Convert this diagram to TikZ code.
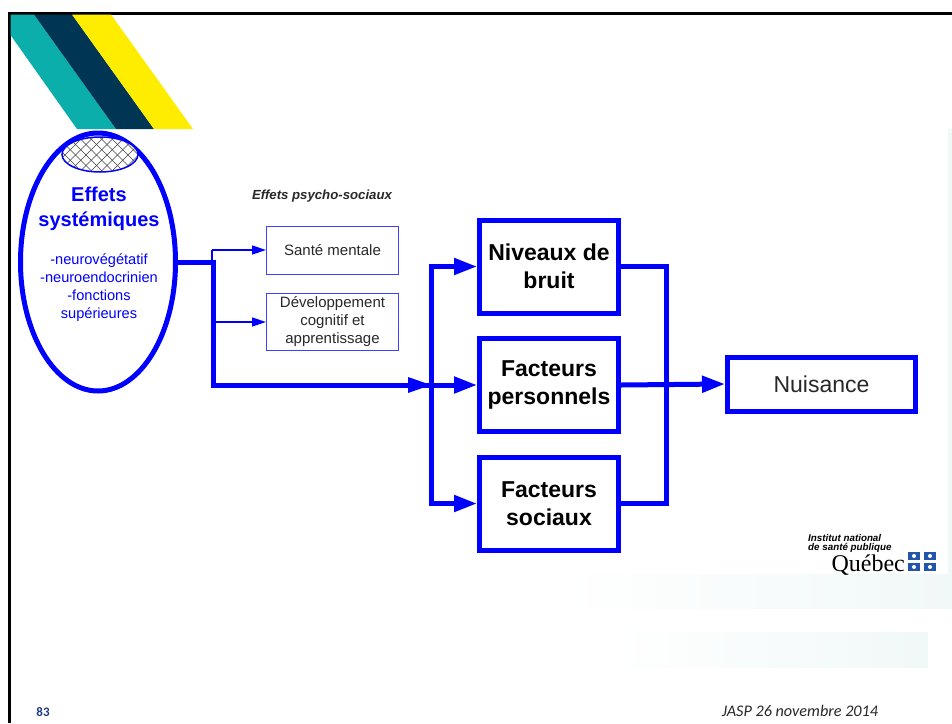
\documentclass[tikz,border=0pt]{standalone}
\usepackage{fontspec}
\setmainfont{Liberation Sans}
\newfontfamily\carl{Carlito}
\newfontfamily\lserif{Liberation Serif}
\usetikzlibrary{arrows.meta,shapes.geometric}
\definecolor{bl}{RGB}{0,0,255}
\definecolor{tealb}{RGB}{12,174,172}
\definecolor{navyb}{RGB}{0,54,84}
\definecolor{yel}{RGB}{255,237,0}
\definecolor{pale}{RGB}{241,248,248}
\definecolor{gtxt}{RGB}{40,40,40}
\definecolor{flagb}{RGB}{35,85,170}
\definecolor{pgb}{RGB}{30,60,130}
\tikzset{
 bigbox/.style={draw=bl,line width=5pt,fill=white,align=center,font=\bfseries\fontsize{23}{28}\selectfont,text=black,inner sep=0pt},
 smallbox/.style={draw=bl!75,line width=1pt,fill=white,align=center,font=\fontsize{15}{18}\selectfont,text=gtxt,inner sep=0pt},
 thick link/.style={draw=bl,line width=5pt,line join=miter,line cap=rect},
 head/.style={-{Triangle[length=23pt,width=16pt]}},
 thin link/.style={draw=bl,line width=1.5pt,-{Triangle[length=14pt,width=9pt]}},
}
\begin{document}
\begin{tikzpicture}[x=1pt,y=-1pt]
\useasboundingbox (0,0) rectangle (952,723);
\fill[white] (0,0) rectangle (952,723);
% pale background bands
\fill[left color=white,right color=pale] (560,574) rectangle (952,608);
\fill[left color=white,right color=pale] (610,632) rectangle (928,667);
\fill[pale] (948,129) rectangle (952,574);
% frame
\draw[black,line width=3pt] (9,723) -- (9,13) -- (952,13);
% stripes
\fill[tealb] (10.5,14.5) -- (34,14.5) -- (116,129) -- (77,129) -- (10.5,35) -- cycle;
\fill[navyb] (34,14.5) -- (72,14.5) -- (154,129) -- (116,129) -- cycle;
\fill[yel] (72,14.5) -- (111,14.5) -- (193,129) -- (154,129) -- cycle;
% ellipse
\node[ellipse,draw=bl,line width=5pt,minimum width=155pt,minimum height=258pt,inner sep=0pt] (syst) at (98,262) {};
\node[ellipse,draw=bl,line width=1.5pt,minimum width=76pt,minimum height=35pt,inner sep=0pt,fill=white] (hatch) at (100,154.5) {};
\begin{scope}
\clip (100,154.5) ellipse [x radius=37.5pt,y radius=17pt];
\foreach \k in {-6,...,14} {
  \draw[black!75,line width=0.6pt] (40+\k*10.5,130) -- ++(50,50);
  \draw[black!75,line width=0.6pt] (40+\k*10.5,180) -- ++(50,-50);
}
\end{scope}
\node[align=center,text=bl,font=\bfseries\fontsize{20}{25}\selectfont] (t1) at (99,209) {Effets\\systémiques};
\node[align=center,text=bl,font=\fontsize{14.6}{18}\selectfont] (t2) at (99,288) {-neurovégétatif\\-neuroendocrinien\\-fonctions\\supérieures};
% small boxes
\node[font=\bfseries\itshape\fontsize{13.2}{15}\selectfont,text=gtxt] (ep) at (322,196) {Effets psycho-sociaux};
\node[smallbox,minimum width=132pt,minimum height=48pt] (sante) at (332.5,250) {Santé mentale};
\node[smallbox,minimum width=132pt,minimum height=57pt] (dev) at (332.5,322) {Développement\\cognitif et\\apprentissage};
% big boxes
\node[bigbox,minimum width=139pt,minimum height=93pt] (nb) at (549,266.5) {Niveaux de\\bruit};
\node[bigbox,minimum width=139pt,minimum height=93pt] (fp) at (549,385) {Facteurs\\personnels};
\node[bigbox,minimum width=139pt,minimum height=93pt] (fs) at (549,503.5) {Facteurs\\sociaux};
\node[draw=bl,line width=5pt,fill=white,minimum width=188pt,minimum height=54pt,inner sep=0pt,font=\fontsize{23}{25}\selectfont,text=gtxt] (nu) at (821.5,384) {Nuisance};
% junction coordinates
\coordinate (b) at (213,262);
\coordinate (c) at (213,385);
\coordinate (j) at (431,385);
\coordinate (jt) at (431,266.5);
\coordinate (jb) at (431,503.5);
\coordinate (rt) at (666,266.5);
\coordinate (rb) at (666,503.5);
\coordinate (s1) at (212,250);
\coordinate (s2) at (212,322);
% connectors
\draw[thick link] (syst.east |- b) -- (b) -- (c) -- (j);
\fill[bl] (408,377) -- (431,385) -- (408,393) -- cycle;
\draw[thick link,line cap=butt,head] (j) -- (fp.west);
\draw[thick link,line cap=butt,head] (jt) -- (nb.west);
\draw[thick link,line cap=butt,head] (jb) -- (fs.west);
\draw[thick link] (jt) -- (jb);
\draw[thick link,line cap=butt] (nb.east) -- (rt) -- (rb) -- (fs.east);
\draw[thick link,line cap=butt,head] (fp.east) -- (nu.west);
\draw[thin link] (s1) -- (s1 -| sante.west);
\draw[bl,line width=1.5pt] (s1) -- (212,262);
\draw[thin link] (s2) -- (dev.west);
% logo
\node[anchor=west,font=\bfseries\itshape\fontsize{9.8}{9}\selectfont,align=left,text=black,inner sep=0pt] (inst) at (808,543.5) {Institut national\\de santé publique};
\node[anchor=base east,font=\lserif\fontsize{24}{24}\selectfont,text=black,inner sep=0pt] (qc) at (905,571) {Québec};
\foreach \x/\y in {908/552,924/552,908/563,924/563} {
  \fill[flagb] (\x,\y) rectangle +(12,8);
  \fill[white] (\x+6,\y+4) circle (2pt);
}
% footer
\node[font=\carl\bfseries\fontsize{13}{15}\selectfont,text=pgb] (pg) at (43,712) {83};
\node[font=\carl\itshape\fontsize{16.2}{18}\selectfont,text=gtxt] (jasp) at (800,711) {JASP 26 novembre 2014};
\end{tikzpicture}
\end{document}
